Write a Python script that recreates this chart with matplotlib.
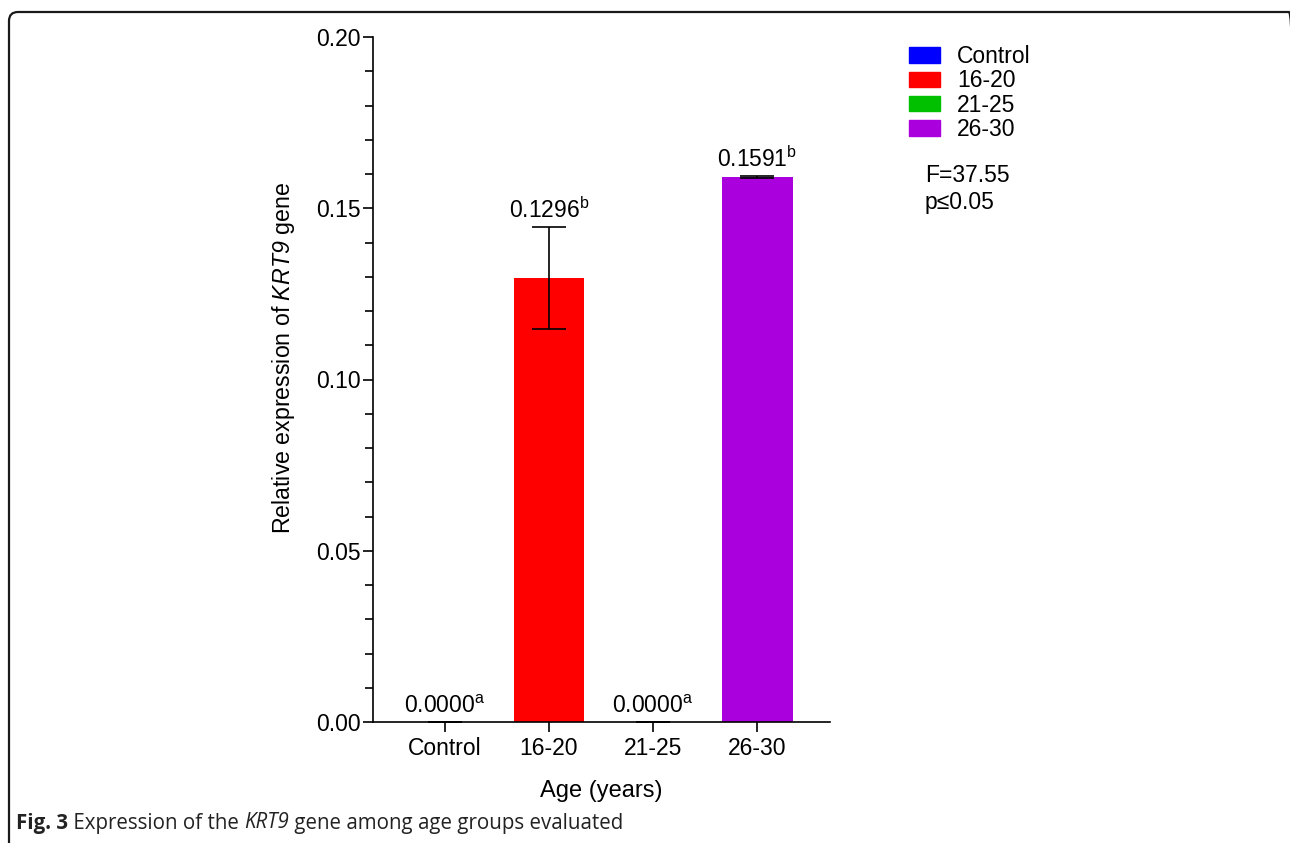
import matplotlib
matplotlib.use("Agg")
import matplotlib.pyplot as plt
from matplotlib.patches import FancyBboxPatch, Patch
from matplotlib.ticker import MultipleLocator
from matplotlib.transforms import IdentityTransform

plt.rcParams['font.family'] = ['Liberation Sans', 'DejaVu Sans']
plt.rcParams['mathtext.fontset'] = 'custom'
plt.rcParams['mathtext.rm'] = 'Liberation Sans'
plt.rcParams['mathtext.it'] = 'Liberation Sans:italic'
plt.rcParams['mathtext.sf'] = 'Liberation Sans:italic'
plt.rcParams['mathtext.bf'] = 'Liberation Sans:bold'

categories = ["Control", "16-20", "21-25", "26-30"]
values = [0.0, 0.1296, 0.0, 0.1591]
errors = [0.0, 0.0149, 0.0, 0.0002]
letters = ["a", "b", "a", "b"]
colors = ["#0000FF", "#FF0000", "#00C000", "#AA00DD"]
yticks = [0.00, 0.05, 0.10, 0.15, 0.20]

W, H = 1290, 843
fig = plt.figure(figsize=(W/100, H/100), dpi=100)

# rounded frame (open at bottom/right edges, as in the page crop)
frame = FancyBboxPatch((9, -30), 1298 - 9, (H - 12) + 30,
                       boxstyle="round,pad=0,rounding_size=9",
                       transform=IdentityTransform(), fill=False, ec="#1a1a1a",
                       lw=1.6)
fig.patches.append(frame)

ax = fig.add_axes([373/W, 1-722/H, (830-373)/W, (722-37)/H])
x = list(range(len(categories)))
ax.bar(x, values, width=0.68, color=colors, zorder=2)
ax.errorbar(x, values, yerr=errors, fmt='none', ecolor='black', elinewidth=1.2,
            capsize=12.5, capthick=1.2, zorder=3)

for xi, v, e, l in zip(x, values, errors, letters):
    ax.annotate(f"{v:.4f}$^{{\\mathrm{{{l}}}}}$", (xi, v + e), xytext=(0, 3),
                textcoords="offset points", ha="center", va="bottom", fontsize=16.5)

ax.set_xlim(-0.69, 3.70)
ax.set_ylim(0, 0.20)
ax.set_xticks(x)
ax.set_xticklabels(categories, fontsize=16.5)
ax.set_yticks(yticks)
ax.set_yticklabels([f"{t:.2f}" for t in yticks], fontsize=16.5)
ax.yaxis.set_minor_locator(MultipleLocator(0.01))
for s in ["top", "right"]:
    ax.spines[s].set_visible(False)
for s in ["left", "bottom"]:
    ax.spines[s].set_linewidth(1.2)
ax.tick_params(axis="both", which="major", length=7, width=1.2, direction="out", pad=2)
ax.tick_params(axis="y", which="minor", length=6, width=1.2)
ax.tick_params(axis="x", which="major", length=7, pad=4)
ax.set_ylabel("Relative expression of $\\mathsf{KRT9}$ gene", fontsize=16.7)
ax.yaxis.set_label_coords(-0.166, (722-358)/(722-37))
ax.set_xlabel("Age (years)", fontsize=17, labelpad=14)

handles = [Patch(facecolor=c, edgecolor=c) for c in colors]
fig.legend(handles, categories, loc="upper left", bbox_to_anchor=(909/W, 1-45/H),
           frameon=False, fontsize=16.5, handlelength=1.35, handleheight=0.65,
           labelspacing=0.06, handletextpad=0.75, borderpad=0, borderaxespad=0)

fig.text(925/W, 1-176/H, "F=37.55", fontsize=16.5, va="center")
fig.text(925/W, 1-203/H, "p\u22640.05", fontsize=16.5, va="center")

# caption, built from consecutive pieces
cap_fs = 14.8
cap_y = 1 - 823/H
fam = ["Open Sans", "DejaVu Sans"]
pieces = [("Fig. 3", dict(fontweight="bold")),
          (" Expression of the ", {}),
          ("KRT9", dict(style="italic")),
          (" gene among age groups evaluated", {})]
fig.canvas.draw()
r = fig.canvas.get_renderer()
xpos = 16
for s, kw in pieces:
    t = fig.text(xpos/W, cap_y, s, fontsize=cap_fs, family=fam, va="center",
                 color="#222222", **kw)
    bb = t.get_window_extent(r)
    xpos = bb.x1

fig.savefig("out.png", dpi=100)
